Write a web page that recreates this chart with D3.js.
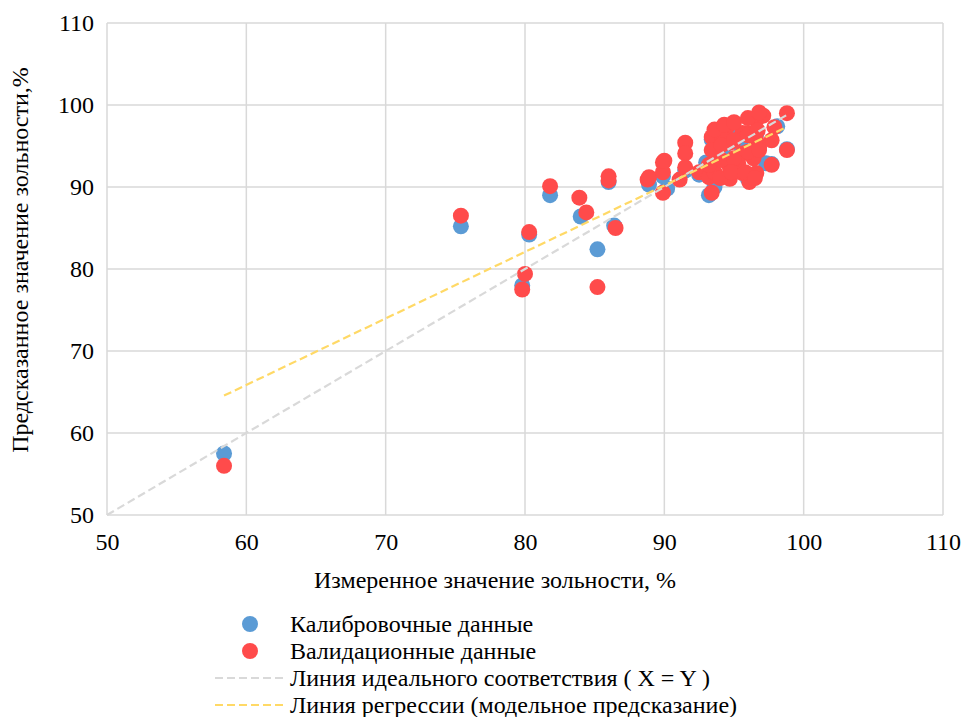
<!DOCTYPE html>
<html>
<head>
<meta charset="utf-8">
<script src="https://cdn.jsdelivr.net/npm/d3@7"></script>
<style>
  body { margin: 0; background: #fff; }
  svg { display: block; }
</style>
</head>
<body>
<svg id="chart" width="963" height="717"></svg>
<script>
// Калибровочные данные: измеренное (x) и предсказанное (y) значение зольности, %
const calX = [58.4, 75.4, 81.8, 80.3, 79.8, 84.0, 85.2, 86.4, 86.0, 88.9, 89.9, 90.2, 91.5, 92.5, 93.4, 93.6, 94.2, 94.8, 95.5, 96.0, 96.6, 97.3, 97.7, 98.1, 98.8, 93.0, 95.0, 96.3, 93.2];
const calY = [57.5, 85.2, 89.0, 84.2, 78.0, 86.4, 82.4, 85.3, 90.6, 90.3, 91.3, 89.8, 92.0, 91.5, 95.8, 90.0, 94.5, 92.0, 95.0, 91.0, 96.5, 92.9, 92.8, 97.4, 94.6, 93.0, 96.0, 94.0, 89.0];

// Валидационные данные
const valX = [58.4, 75.4, 81.8, 80.3, 79.8, 80.0, 83.9, 84.4, 86.5, 85.2, 86.0, 86.0,
  88.8, 88.9, 89.9, 89.9, 89.9, 90.0, 91.5, 91.5, 91.5, 91.1, 92.5, 93.4, 93.4, 93.2,
  94.5, 94.0, 94.7, 94.7, 94.7, 95.6, 95.6, 95.6, 96.1, 96.6, 97.1, 96.6, 96.6, 97.9,
  97.7, 97.7, 98.8, 98.8, 93.8, 95.0, 96.0, 96.4, 94.2, 95.3, 93.6, 96.8,
  93.6, 94.3, 95.0, 96.0, 96.8, 93.4, 94.1, 95.0, 96.0, 96.7, 93.2, 94.1, 95.0, 96.0,
  96.8, 94.0, 94.8, 95.8, 96.5];
const valY = [56.0, 86.5, 90.1, 84.5, 77.5, 79.4, 88.7, 86.9, 85.0, 77.8, 91.3, 90.8,
  90.9, 91.2, 93.0, 91.8, 89.3, 93.2, 95.4, 94.1, 92.4, 90.9, 91.8, 96.1, 89.3, 91.2,
  97.3, 96.9, 95.4, 92.4, 91.0, 96.6, 94.1, 91.7, 90.6, 98.2, 98.7, 95.7, 91.7, 97.3,
  95.7, 92.7, 99.0, 94.5, 93.7, 93.2, 96.6, 93.5, 95.9, 92.9, 91.8, 94.8,
  97.0, 97.6, 97.9, 98.4, 99.1, 94.5, 95.1, 95.7, 96.3, 96.9, 92.7, 93.3, 93.5, 94.3,
  94.5, 91.1, 91.8, 91.8, 91.1];

// Линии: идеальное соответствие и регрессия
const idealX = [50, 98.8];
const regSlope = 0.811;
const regIntercept = 17.2;
const regX = [58.4, 98.8];

const xTicks = [50, 60, 70, 80, 90, 100, 110];
const yTicks = [50, 60, 70, 80, 90, 100, 110];

const legendLabels = [
  "Калибровочные данные",
  "Валидационные данные",
  "Линия идеального соответствия ( X = Y )",
  "Линия регрессии (модельное предсказание)"
];

const FONT = "'Liberation Serif', 'Times New Roman', 'DejaVu Serif', serif";
const FS = 24;
const R = 8;
const colBlue = "#5b9bd5", colRed = "#ff4b4b", colGrey = "#d9d9d9", colYellow = "#ffd966";

const svg = d3.select("#chart").attr("font-family", FONT);
const x = d3.scaleLinear().domain([50, 110]).range([107, 943]);
const y = d3.scaleLinear().domain([50, 110]).range([515, 23]);

// сетка
const grid = svg.append("g");
grid.selectAll(".gv").data(xTicks).join("line")
  .attr("x1", d => x(d)).attr("x2", d => x(d))
  .attr("y1", y(50)).attr("y2", y(110))
  .attr("stroke", colGrey).attr("stroke-width", 1.5);
grid.selectAll(".gh").data(yTicks).join("line")
  .attr("x1", x(50)).attr("x2", x(110))
  .attr("y1", d => y(d)).attr("y2", d => y(d))
  .attr("stroke", colGrey).attr("stroke-width", 1.5);

// оси
const xAxis = svg.append("g").attr("transform", `translate(0,${y(50)})`)
  .call(d3.axisBottom(x).tickValues(xTicks).tickSize(0).tickPadding(18));
const yAxis = svg.append("g").attr("transform", `translate(${x(50)},0)`)
  .call(d3.axisLeft(y).tickValues(yTicks).tickSize(0).tickPadding(13));
[xAxis, yAxis].forEach(g => {
  g.attr("font-family", FONT).attr("font-size", FS);
  g.select(".domain").remove();
  g.selectAll("text").attr("fill", "#000");
});

// точки
const calib = d3.zip(calX, calY);
const valid = d3.zip(valX, valY);
svg.append("g").selectAll("circle").data(calib).join("circle")
  .attr("cx", d => x(d[0])).attr("cy", d => y(d[1])).attr("r", R).attr("fill", colBlue);
svg.append("g").selectAll("circle").data(valid).join("circle")
  .attr("cx", d => x(d[0])).attr("cy", d => y(d[1])).attr("r", R).attr("fill", colRed);

// линии
const line = d3.line().x(d => x(d[0])).y(d => y(d[1]));
svg.append("path").datum(idealX.map(v => [v, v]))
  .attr("d", line).attr("fill", "none").attr("stroke", colGrey)
  .attr("stroke-width", 2.2).attr("stroke-dasharray", "8,4");
svg.append("path").datum(regX.map(v => [v, regSlope * v + regIntercept]))
  .attr("d", line).attr("fill", "none").attr("stroke", colYellow)
  .attr("stroke-width", 2.2).attr("stroke-dasharray", "8,4");

// подписи осей
svg.append("text").attr("x", 495).attr("y", 588)
  .attr("text-anchor", "middle").attr("font-size", FS)
  .text("Измеренное значение зольности, %");
svg.append("text")
  .attr("transform", `translate(28,260) rotate(-90)`)
  .attr("text-anchor", "middle").attr("font-size", FS)
  .text("Предсказанное значение зольности,%");

// легенда
const lg = svg.append("g");
const rowY = [624, 651, 678, 705];
lg.append("circle").attr("cx", 250).attr("cy", rowY[0]).attr("r", R).attr("fill", colBlue);
lg.append("circle").attr("cx", 250).attr("cy", rowY[1]).attr("r", R).attr("fill", colRed);
lg.append("line").attr("x1", 215).attr("x2", 283).attr("y1", rowY[2]).attr("y2", rowY[2])
  .attr("stroke", colGrey).attr("stroke-width", 2.2).attr("stroke-dasharray", "8,4");
lg.append("line").attr("x1", 215).attr("x2", 283).attr("y1", rowY[3]).attr("y2", rowY[3])
  .attr("stroke", colYellow).attr("stroke-width", 2.2).attr("stroke-dasharray", "8,4");
lg.selectAll("text").data(legendLabels).join("text")
  .attr("x", 290).attr("y", (d, i) => rowY[i] + 8).attr("font-size", FS).text(d => d);
</script>
</body>
</html>
